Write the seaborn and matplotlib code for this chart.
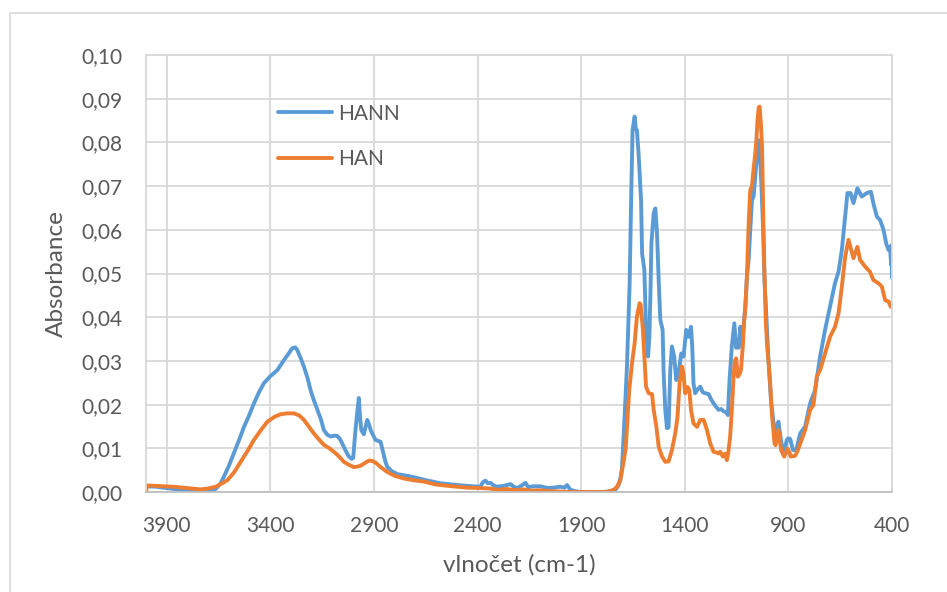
import matplotlib
matplotlib.use("Agg")
import matplotlib.pyplot as plt
from matplotlib.patches import Rectangle
import seaborn as sns
import pandas as pd

# FTIR spectra: wavenumber (cm-1) and absorbance for each sample
hann_wn = [3997, 3950, 3866, 3800, 3736, 3700, 3664, 3640, 3624, 3600, 3576, 3550, 3527, 3500,
           3479, 3455, 3431, 3400, 3366, 3334, 3310, 3294, 3280, 3270, 3255, 3238, 3220, 3206,
           3190, 3173, 3155, 3142, 3125, 3109, 3090, 3077, 3065, 3053, 3037, 3021, 3008, 3000,
           2993, 2989, 2980, 2973, 2967, 2961, 2949, 2940, 2932, 2924, 2916, 2904, 2892, 2880,
           2868, 2855, 2845, 2836, 2815, 2788, 2750, 2708, 2650, 2579, 2500, 2420, 2386, 2375,
           2362, 2350, 2338, 2322, 2306, 2275, 2241, 2225, 2209, 2190, 2169, 2155, 2130, 2097,
           2070, 2049, 2020, 2000, 1980, 1968, 1952, 1930, 1904, 1850, 1800, 1775, 1750, 1735,
           1720, 1711, 1703, 1692, 1679, 1666, 1658, 1652, 1642, 1636, 1631, 1623, 1611, 1606,
           1595, 1587, 1577, 1571, 1566, 1561, 1550, 1542, 1534, 1526, 1518, 1507, 1502, 1494,
           1486, 1478, 1470, 1462, 1451, 1441, 1430, 1417, 1406, 1393, 1382, 1370, 1364, 1358,
           1350, 1338, 1325, 1313, 1301, 1285, 1273, 1261, 1249, 1237, 1225, 1213, 1200, 1192,
           1184, 1173, 1161, 1152, 1146, 1140, 1132, 1124, 1108, 1100, 1092, 1084, 1076, 1068,
           1063, 1052, 1044, 1038, 1030, 1022, 1015, 1006, 996, 984, 972, 964, 956, 948,
           942, 936, 924, 916, 908, 900, 891, 878, 862, 850, 843, 819, 795, 771,
           747, 723, 699, 675, 658, 642, 626, 615, 600, 586, 567, 546, 522, 502,
           490, 473, 457, 441, 428, 417, 410, 404, 402, 400]
hann_abs = [0.0013, 0.0012, 0.0007, 0.0004, 0.0001, 0.0002, 0.0007, 0.0020, 0.0035, 0.0060,
            0.0089, 0.0120, 0.0149, 0.0178, 0.0203, 0.0228, 0.0249, 0.0265, 0.0279, 0.0302,
            0.0318, 0.0329, 0.0331, 0.0325, 0.0308, 0.0287, 0.0260, 0.0233, 0.0210, 0.0188,
            0.0165, 0.0142, 0.0131, 0.0127, 0.0129, 0.0128, 0.0122, 0.0111, 0.0095, 0.0081,
            0.0076, 0.0078, 0.0120, 0.0142, 0.0185, 0.0215, 0.0170, 0.0142, 0.0132, 0.0150,
            0.0165, 0.0155, 0.0142, 0.0130, 0.0119, 0.0117, 0.0115, 0.0090, 0.0070, 0.0058,
            0.0048, 0.0041, 0.0038, 0.0034, 0.0027, 0.0020, 0.0016, 0.0013, 0.0012, 0.0022,
            0.0026, 0.0020, 0.0021, 0.0015, 0.0012, 0.0014, 0.0018, 0.0012, 0.0009, 0.0014,
            0.0021, 0.0011, 0.0013, 0.0013, 0.0010, 0.0009, 0.0011, 0.0012, 0.0010, 0.0016,
            0.0005, 0.0002, 0.0000, 0.0000, 0.0000, 0.0001, 0.0003, 0.0005, 0.0015, 0.0030,
            0.0055, 0.0157, 0.0287, 0.0478, 0.0691, 0.0828, 0.0859, 0.0830, 0.0828, 0.0775,
            0.0668, 0.0546, 0.0508, 0.0371, 0.0310, 0.0355, 0.0447, 0.0569, 0.0638, 0.0649,
            0.0592, 0.0485, 0.0394, 0.0371, 0.0272, 0.0188, 0.0146, 0.0148, 0.0279, 0.0333,
            0.0310, 0.0256, 0.0272, 0.0317, 0.0310, 0.0371, 0.0355, 0.0378, 0.0333, 0.0249,
            0.0226, 0.0235, 0.0241, 0.0228, 0.0226, 0.0224, 0.0212, 0.0203, 0.0195, 0.0188,
            0.0190, 0.0185, 0.0182, 0.0176, 0.0256, 0.0333, 0.0386, 0.0330, 0.0340, 0.0330,
            0.0378, 0.0340, 0.0424, 0.0493, 0.0530, 0.0600, 0.0668, 0.0676, 0.0706, 0.0767,
            0.0805, 0.0780, 0.0700, 0.0600, 0.0480, 0.0400, 0.0300, 0.0210, 0.0160, 0.0130,
            0.0150, 0.0161, 0.0140, 0.0119, 0.0089, 0.0100, 0.0119, 0.0123, 0.0121, 0.0096,
            0.0096, 0.0120, 0.0134, 0.0150, 0.0203, 0.0233, 0.0310, 0.0371, 0.0424, 0.0478,
            0.0504, 0.0554, 0.0630, 0.0684, 0.0684, 0.0661, 0.0695, 0.0676, 0.0684, 0.0687,
            0.0661, 0.0630, 0.0622, 0.0600, 0.0569, 0.0554, 0.0561, 0.0520, 0.0565, 0.0490]

han_wn = [3999, 3997, 3950, 3866, 3800, 3736, 3700, 3664, 3640, 3607, 3575, 3543, 3510, 3479,
          3445, 3414, 3380, 3350, 3318, 3286, 3260, 3238, 3215, 3190, 3165, 3142, 3115, 3093,
          3070, 3045, 3020, 2997, 2980, 2965, 2945, 2924, 2908, 2892, 2865, 2836, 2800, 2756,
          2710, 2660, 2600, 2520, 2450, 2386, 2340, 2300, 2260, 2220, 2180, 2140, 2100, 2050,
          2000, 1950, 1850, 1775, 1743, 1727, 1711, 1695, 1685, 1676, 1668, 1655, 1642, 1631,
          1618, 1613, 1602, 1595, 1587, 1574, 1558, 1550, 1537, 1526, 1510, 1494, 1478, 1462,
          1446, 1435, 1425, 1414, 1406, 1398, 1386, 1378, 1370, 1358, 1341, 1325, 1309, 1293,
          1277, 1261, 1245, 1237, 1229, 1216, 1206, 1197, 1190, 1181, 1173, 1165, 1159, 1152,
          1144, 1136, 1129, 1120, 1113, 1108, 1100, 1092, 1084, 1076, 1068, 1063, 1055, 1049,
          1043, 1039, 1033, 1027, 1022, 1017, 1009, 1002, 996, 988, 980, 972, 967, 962,
          955, 948, 942, 935, 928, 920, 912, 903, 895, 888, 878, 867, 855, 843,
          819, 795, 779, 763, 747, 723, 699, 675, 658, 642, 626, 610, 597, 586,
          567, 554, 530, 506, 490, 466, 449, 433, 417, 406, 400]
han_abs = [0.0000, 0.0015, 0.0014, 0.0012, 0.0009, 0.0006, 0.0008, 0.0012, 0.0018, 0.0027,
           0.0045, 0.0069, 0.0094, 0.0119, 0.0142, 0.0161, 0.0172, 0.0178, 0.0180, 0.0180,
           0.0175, 0.0165, 0.0150, 0.0134, 0.0120, 0.0108, 0.0100, 0.0092, 0.0082, 0.0069,
           0.0062, 0.0057, 0.0058, 0.0060, 0.0066, 0.0072, 0.0071, 0.0067, 0.0056, 0.0046,
           0.0037, 0.0031, 0.0027, 0.0024, 0.0017, 0.0013, 0.0010, 0.0009, 0.0008, 0.0005,
           0.0007, 0.0004, 0.0006, 0.0003, 0.0004, 0.0002, 0.0001, 0.0000, 0.0000, 0.0000,
           0.0005, 0.0012, 0.0027, 0.0070, 0.0100, 0.0170, 0.0233, 0.0294, 0.0340, 0.0401,
           0.0432, 0.0429, 0.0371, 0.0310, 0.0241, 0.0226, 0.0224, 0.0188, 0.0149, 0.0104,
           0.0081, 0.0069, 0.0070, 0.0096, 0.0134, 0.0172, 0.0249, 0.0287, 0.0270, 0.0226,
           0.0240, 0.0233, 0.0188, 0.0157, 0.0149, 0.0165, 0.0165, 0.0142, 0.0111, 0.0092,
           0.0090, 0.0088, 0.0092, 0.0081, 0.0088, 0.0073, 0.0090, 0.0127, 0.0188, 0.0260,
           0.0300, 0.0306, 0.0264, 0.0270, 0.0279, 0.0333, 0.0394, 0.0416, 0.0495, 0.0610,
           0.0691, 0.0699, 0.0740, 0.0760, 0.0800, 0.0850, 0.0880, 0.0882, 0.0844, 0.0790,
           0.0650, 0.0530, 0.0390, 0.0330, 0.0300, 0.0250, 0.0180, 0.0140, 0.0111, 0.0107,
           0.0125, 0.0142, 0.0120, 0.0096, 0.0088, 0.0081, 0.0090, 0.0099, 0.0090, 0.0081,
           0.0082, 0.0083, 0.0095, 0.0111, 0.0142, 0.0188, 0.0199, 0.0264, 0.0279, 0.0317,
           0.0355, 0.0378, 0.0409, 0.0470, 0.0538, 0.0577, 0.0554, 0.0535, 0.0561, 0.0531,
           0.0516, 0.0504, 0.0485, 0.0478, 0.0470, 0.0439, 0.0436, 0.0424, 0.0432]

series_names = ["HANN", "HAN"]
series_colors = ["#5B9BD5", "#ED7D31"]
x_ticks = [3900, 3400, 2900, 2400, 1900, 1400, 900, 400]
y_ticks = [0.00, 0.01, 0.02, 0.03, 0.04, 0.05, 0.06, 0.07, 0.08, 0.09, 0.10]
x_label = "vlnočet (cm-1)"
y_label = "Absorbance"

df = pd.concat([
    pd.DataFrame({"wn": hann_wn, "abs": hann_abs, "sample": series_names[0]}),
    pd.DataFrame({"wn": han_wn, "abs": han_abs, "sample": series_names[1]}),
], ignore_index=True)

sns.set_theme(style="white")
plt.rcParams["font.family"] = ["Lato", "DejaVu Sans"]

text_color = "#595959"
grid_color = "#D9D9D9"
font_size = 15
title_size = 17.5

fig = plt.figure(figsize=(9.47, 5.92), dpi=100)
ax = fig.add_axes([146 / 947, 1 - 492 / 592, (892 - 146) / 947, (492 - 55) / 592])

# outer chart frame
fig.patches.append(Rectangle((9.5 / 947, -0.05), 1.1, 1 - 12.5 / 592 + 0.05,
                             transform=fig.transFigure, fill=False,
                             edgecolor=grid_color, linewidth=1.2, zorder=0))

sns.lineplot(data=df, x="wn", y="abs", hue="sample", hue_order=series_names,
             palette=series_colors, estimator=None, linewidth=2.8, ax=ax)

ax.set_xlim(4000, 400)
ax.set_ylim(0, 0.10)
ax.set_xticks(x_ticks)
ax.set_yticks(y_ticks)
ax.set_yticklabels([f"{v:.2f}".replace(".", ",") for v in y_ticks])
ax.grid(True, color=grid_color, linewidth=1.3)
ax.set_axisbelow(True)
ax.tick_params(axis="both", length=0, labelsize=font_size, colors=text_color)
ax.tick_params(axis="y", pad=17)
ax.tick_params(axis="x", pad=17)
for side in ["left", "top", "right"]:
    ax.spines[side].set_color(grid_color)
    ax.spines[side].set_linewidth(1.3)
ax.spines["bottom"].set_color("#BFBFBF")
ax.spines["bottom"].set_linewidth(1.3)

ax.set_xlabel(x_label, fontsize=title_size, color=text_color, labelpad=13)
ax.set_ylabel(y_label, fontsize=title_size, color=text_color, labelpad=10)

leg = ax.legend(loc="upper left", bbox_to_anchor=(0.177, 0.889), frameon=False,
                borderpad=0, borderaxespad=0, handlelength=2.6, handletextpad=0.3,
                labelspacing=1.22, fontsize=font_size)
for t in leg.get_texts():
    t.set_color(text_color)
for h in leg.get_lines():
    h.set_linewidth(2.8)

fig.savefig("out.png", dpi=100)
